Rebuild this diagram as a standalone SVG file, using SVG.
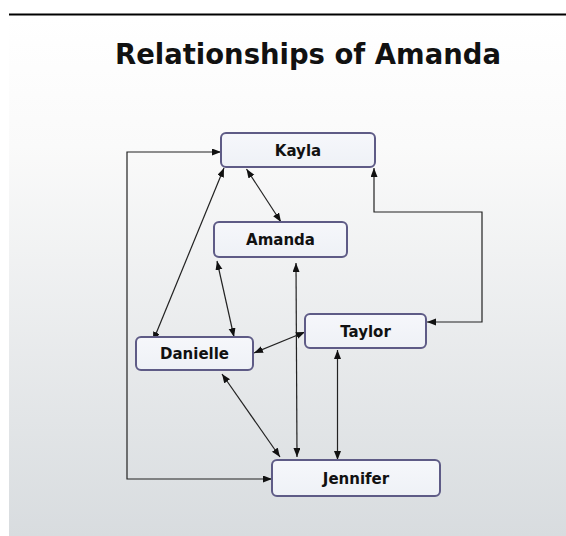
<svg xmlns="http://www.w3.org/2000/svg" width="566" height="536" viewBox="0 0 566 536">
<defs>
<linearGradient id="bg" x1="0" y1="0" x2="0" y2="1">
<stop offset="0" stop-color="#ffffff"/>
<stop offset="0.25" stop-color="#fafafa"/>
<stop offset="1" stop-color="#d8dcdf"/>
</linearGradient>
<linearGradient id="nodefill" x1="0" y1="0" x2="0" y2="1">
<stop offset="0" stop-color="#f6f7fb"/>
<stop offset="1" stop-color="#eef1f6"/>
</linearGradient>
<marker id="arr" markerUnits="userSpaceOnUse" markerWidth="10" markerHeight="8" refX="9" refY="3.5" orient="auto-start-reverse">
<path d="M0,0 L9,3.5 L0,7 z" fill="#111"/>
</marker>
<style>
.node rect{fill:url(#nodefill);stroke:#5e5b86;stroke-width:2}
.node text{font-family:"DejaVu Sans",Verdana,sans-serif;font-weight:bold;font-size:15px;fill:#111;text-anchor:middle}
#connectors path{fill:none;stroke:#222;stroke-width:1.2;marker-start:url(#arr);marker-end:url(#arr)}
</style>
</defs>
<rect x="9" y="16" width="557" height="520" fill="url(#bg)"/>
<line x1="9" y1="14.5" x2="566" y2="14.5" stroke="#000" stroke-width="2"/>
<text x="308" y="64" font-family="DejaVu Sans, Verdana, sans-serif" font-weight="bold" font-size="28" text-anchor="middle" fill="#111" textLength="386" lengthAdjust="spacingAndGlyphs">Relationships of Amanda</text>
<g id="connectors">
<path d="M272,479 H127 V152 H221"/>
<path d="M246.5,169 L281,222"/>
<path d="M224,168 L153,341"/>
<path d="M217,261 L234,337"/>
<path d="M296,263 L297,457"/>
<path d="M305,332 L254,353"/>
<path d="M337.5,350 L337.5,460"/>
<path d="M222,374 L280,457"/>
<path d="M374,168 V212 H482 V322 H427"/>
</g>
<g id="kayla" class="node"><rect x="221" y="133" width="154" height="34" rx="5"/><text x="298" y="155.5">Kayla</text></g>
<g id="amanda" class="node"><rect x="214" y="222" width="133" height="35" rx="5"/><text x="280.5" y="245">Amanda</text></g>
<g id="taylor" class="node"><rect x="305" y="314" width="121" height="34" rx="5"/><text x="365.5" y="336.5">Taylor</text></g>
<g id="danielle" class="node"><rect x="136" y="337" width="117" height="33" rx="5"/><text x="194.5" y="359">Danielle</text></g>
<g id="jennifer" class="node"><rect x="272" y="460" width="168" height="36" rx="5"/><text x="356" y="483.5">Jennifer</text></g>
</svg>
